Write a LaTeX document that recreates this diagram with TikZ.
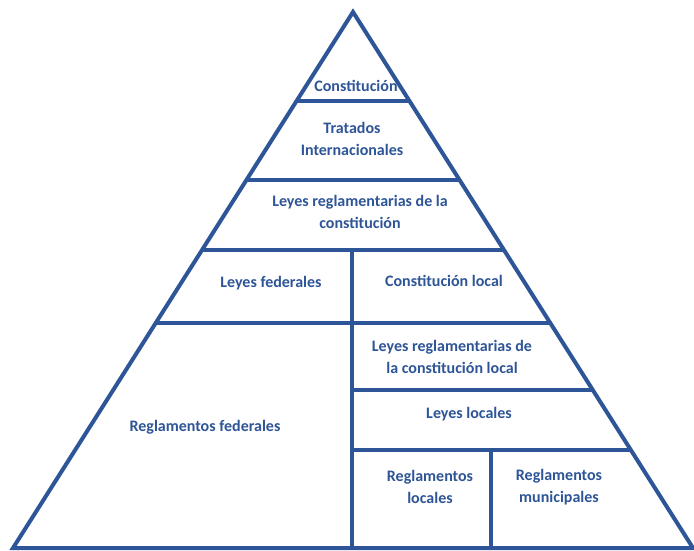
\documentclass[tikz,border=0pt]{standalone}
\usepackage{fontspec}
\setmainfont{Carlito}
\usetikzlibrary{calc}
\definecolor{pyrblue}{HTML}{2E5597}
\tikzset{
  every picture/.style={
    line width=4pt, pyrblue
  },
  level/.style={
    text=pyrblue, align=center, inner sep=0pt,
    font=\bfseries\fontsize{16}{22}\selectfont
  }
}
\begin{document}
\begin{tikzpicture}[x=1pt,y=-1pt]
      \useasboundingbox [fill=white] (0,0) rectangle (694,551);
      \coordinate (top) at (353,12);
      \coordinate (bl) at (13,548);
      \coordinate (br) at (693,548);
      \coordinate (mid) at (352,548);
      \coordinate (mid2) at (491,548);
      \foreach \t/\n in {0.166/1,0.313/2,0.444/3,0.580/4,0.705/5,0.817/6} {
        \coordinate (l\n) at ($(top)!\t!(bl)$);
        \coordinate (r\n) at ($(top)!\t!(br)$);
      }
      \draw (top) -- (bl) -- (br) -- cycle;
      \foreach \n in {1,...,4}
        \draw (l\n) -- (r\n);
      \draw (mid |- r5) -- (r5);
      \draw (mid |- r6) -- (r6);
      \draw (mid) -- (mid |- r3);
      \draw (mid2) -- (mid2 |- r6);
      \node [level] (const) at (356,86) {Constitución};
      \node [level] (trat) at (352,139) {Tratados\\Internacionales};
      \node [level] (leyreg) at (360,212) {Leyes reglamentarias de la\\constitución};
      \node [level] (leyfed) at (271,283) {Leyes federales};
      \node [level] (constloc) at (444,281) {Constitución local};
      \node [level] (leyregloc) at (452,357) {Leyes reglamentarias de\\la constitución local};
      \node [level] (leyloc) at (469,414) {Leyes locales};
      \node [level] (regfed) at (205,427) {Reglamentos federales};
      \node [level] (regloc) at (430,487) {Reglamentos\\locales};
      \node [level] (regmun) at (559,487) {Reglamentos\\municipales};
    \end{tikzpicture}
\end{document}
